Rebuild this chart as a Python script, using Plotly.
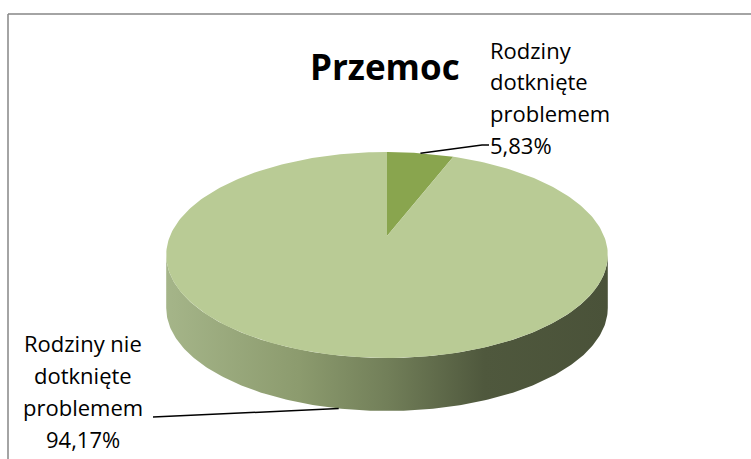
import numpy as np
import plotly.graph_objects as go

# ---- data ----
title = "Przemoc"
categories = ["Rodziny dotknięte problemem", "Rodziny nie dotknięte problemem"]
values = [5.83, 94.17]
label_lines = [["Rodziny", "dotknięte", "problemem", "5,83%"],
               ["Rodziny nie", "dotknięte", "problemem", "94,17%"]]
top_colors = ["#89a54e", "#b9cb95"]

# ---- 3D pie geometry (pixel space) ----
CX = 387.0      # screen x of pie center
D = 217.0       # horizontal scale
A, B, C = -55.96, 236.0, 0.1845   # perspective for vertical axis
DEPTH = 53.0

def proj(theta):
    u = np.sin(theta)
    v = np.cos(theta)
    w = 1 + C * v
    return CX + D * u / w, (A * v + B) / w

fig = go.Figure()

total = sum(values)
fracs = [v / total for v in values]
starts = np.cumsum([0] + fracs[:-1]) * 2 * np.pi
ends = np.cumsum(fracs) * 2 * np.pi

# front visible arc range
f0 = np.arccos(-C)
f1 = 2 * np.pi - f0

# sides
for i in range(len(values)):
    a0, a1 = max(starts[i], f0), min(ends[i], f1)
    if a1 <= a0:
        continue
    th = np.linspace(a0, a1, 200)
    xt, yt = proj(th)
    xs = np.concatenate([xt, xt[::-1], xt[:1]])
    ys = np.concatenate([yt, yt[::-1] + DEPTH, yt[:1]])
    fig.add_trace(go.Scatter(
        x=xs, y=ys, mode="lines", fill="toself", line=dict(width=0),
        fillgradient=dict(type="horizontal", start=float(xt.min()), stop=float(xt.max()),
                          colorscale=[[0, "#a5b589"], [0.3, "#8c9b6e"], [0.5, "#727f59"],
                                      [0.72, "#4f583d"], [1, "#4a5239"]]),
        hoverinfo="skip", showlegend=False))

# top faces
apex_x, apex_y = CX, B
for i in range(len(values)):
    th = np.linspace(starts[i], ends[i], 300)
    xt, yt = proj(th)
    xs = np.concatenate([[apex_x], xt, [apex_x]])
    ys = np.concatenate([[apex_y], yt, [apex_y]])
    fig.add_trace(go.Scatter(
        x=xs, y=ys, mode="lines", fill="toself", fillcolor=top_colors[i],
        line=dict(width=0), hoverinfo="skip", showlegend=False, name=categories[i]))

# leader lines (anchored at slice mid-angles)
mids = (starts + ends) / 2
m0x, m0y = proj(np.array([mids[0]]))
fig.add_trace(go.Scatter(x=[m0x[0], 482, 489], y=[m0y[0], 145, 145], mode="lines",
                         line=dict(color="black", width=1.5), hoverinfo="skip", showlegend=False))
m1x, m1y = proj(np.array([mids[1]]))
fig.add_trace(go.Scatter(x=[m1x[0], 153], y=[m1y[0] + DEPTH, 417], mode="lines",
                         line=dict(color="black", width=1.5), hoverinfo="skip", showlegend=False))

FONT = "'Open Sans', Lato, sans-serif"
LSIZE = 22
base1 = [57, 88.5, 120, 152]
base2 = [350, 382.5, 414.5, 446.5]
for line, b in zip(label_lines[0], base1):
    fig.add_annotation(x=488, y=b - 7.5, xref="x", yref="y", text=line,
                       showarrow=False, xanchor="left", yanchor="middle",
                       font=dict(family=FONT, size=LSIZE, color="black"))
for line, b in zip(label_lines[1], base2):
    fig.add_annotation(x=83, y=b - 7.5, xref="x", yref="y", text=line,
                       showarrow=False, xanchor="center", yanchor="middle",
                       font=dict(family=FONT, size=LSIZE, color="black"))
fig.add_annotation(x=385, y=66, xref="x", yref="y", text="<b>" + title + "</b>",
                   showarrow=False, xanchor="center", yanchor="middle",
                   font=dict(family=FONT, size=35, color="black"))

# chart-area border (top and left edges visible)
fig.add_shape(type="line", x0=8, y0=14, x1=760, y1=14, xref="x", yref="y",
              line=dict(color="#868686", width=1.5))
fig.add_shape(type="line", x0=8, y0=14, x1=8, y1=470, xref="x", yref="y",
              line=dict(color="#868686", width=1.5))

fig.update_layout(
    width=751, height=459, margin=dict(l=0, r=0, t=0, b=0),
    paper_bgcolor="white", plot_bgcolor="white",
    xaxis=dict(range=[0, 751], visible=False, fixedrange=True),
    yaxis=dict(range=[459, 0], visible=False, fixedrange=True),
    showlegend=False,
)
fig.write_html("out.html", config={"displayModeBar": False},
               post_script="document.body.style.margin='0';document.body.style.overflow='hidden';")
